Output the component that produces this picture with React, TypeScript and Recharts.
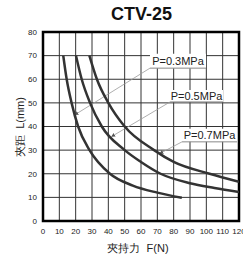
import { LineChart, Line, XAxis, YAxis, CartesianGrid, ReferenceArea, ReferenceLine } from 'recharts'

const xTicks = [0, 10, 20, 30, 40, 50, 60, 70, 80, 90, 100, 110, 120]
const yTicks = [0, 10, 20, 30, 40, 50, 60, 70, 80]

// clamping force F(N) vs distance L(mm)
const p03 = [
  { F: 12.4, L: 70 }, { F: 14.5, L: 60 }, { F: 17.5, L: 50 }, { F: 21.5, L: 40 },
  { F: 28.5, L: 30 }, { F: 41, L: 20 }, { F: 55, L: 15 }, { F: 70, L: 12 }, { F: 85, L: 9.8 },
]
const p05 = [
  { F: 20.2, L: 70 }, { F: 23.7, L: 60 }, { F: 28.8, L: 50 }, { F: 36, L: 40 },
  { F: 50, L: 30 }, { F: 60, L: 25 }, { F: 72, L: 20 }, { F: 90, L: 16 }, { F: 105, L: 14 }, { F: 120, L: 12.3 },
]
const p07 = [
  { F: 28.4, L: 70 }, { F: 33, L: 60 }, { F: 40, L: 50 }, { F: 50, L: 40 },
  { F: 68, L: 30 }, { F: 80, L: 25 }, { F: 102, L: 20 }, { F: 120, L: 16.6 },
]

const series = [
  { name: 'P=0.3MPa', data: p03 },
  { name: 'P=0.5MPa', data: p05 },
  { name: 'P=0.7MPa', data: p07 },
]

// callout boxes: [x1, x2, yBottom, yTop] and leader tip
const callouts = [
  { text: 'P=0.3MPa', x1: 65.5, x2: 99.8, y1: 64.7, y2: 70.8, tip: { x: 19.6, y: 45 } },
  { text: 'P=0.5MPa', x1: 77.8, x2: 110.2, y1: 50.4, y2: 55.5, tip: { x: 42.1, y: 35.8 } },
  { text: 'P=0.7MPa', x1: 85.1, x2: 118.8, y1: 33.5, y2: 39, tip: { x: 71.6, y: 28.6 } },
]

const font = "'Liberation Sans', Arial, sans-serif"

export default function App() {
  return (
    <div style={{ position: 'absolute', left: 0, top: 0, width: 243, height: 255, background: '#fff', fontFamily: font }}>
      <div style={{ position: 'absolute', left: 0, width: 283, top: 4, textAlign: 'center', fontSize: 18, fontWeight: 700, color: '#111' }}>CTV-25</div>
      <LineChart width={243} height={255} margin={{ top: 32, right: 4, bottom: 14, left: 0 }}>
        <defs>
          <marker id="arr" viewBox="0 0 6 6" refX="5" refY="3" markerWidth="5" markerHeight="5" orient="auto">
            <path d="M0,0 L6,3 L0,6 z" fill="#555" />
          </marker>
        </defs>
        <CartesianGrid stroke="#333" strokeWidth={1} />
        <XAxis dataKey="F" type="number" domain={[0, 120]} ticks={xTicks} interval={0} height={20}
          axisLine={false} tickLine={false} tickSize={0} tickMargin={7}
          tick={{ fontSize: 8, fill: '#222', fontFamily: font }} allowDataOverflow />
        <YAxis dataKey="L" type="number" domain={[0, 80]} ticks={yTicks} interval={0} width={43}
          axisLine={false} tickLine={false} tickSize={0} tickMargin={6}
          tick={{ fontSize: 8, fill: '#222', fontFamily: font }} allowDataOverflow />
        {callouts.map((c) => (
          <ReferenceArea key={c.text + 'b'} x1={c.x1} x2={c.x2} y1={c.y1} y2={c.y2} fill="#fff" fillOpacity={1} stroke="none"
            label={{ value: c.text, position: 'center', fontSize: 11, fill: '#222', fontFamily: font }} />
        ))}
        {callouts.map((c) => (
          <ReferenceLine key={c.text + 'u'} segment={[{ x: c.x1, y: c.y1 }, { x: c.x2, y: c.y1 }]} stroke="#888" strokeWidth={1} />
        ))}
        {callouts.map((c) => (
          <ReferenceLine key={c.text + 'l'} segment={[{ x: c.x1, y: c.y1 }, c.tip]} stroke="#999" strokeWidth={0.8} markerEnd="url(#arr)" />
        ))}
        {series.map((s) => (
          <Line key={s.name} data={s.data} dataKey="L" type="monotone" stroke="#333" strokeWidth={2.5}
            dot={false} activeDot={false} isAnimationActive={false} />
        ))}
        <ReferenceArea x1={0} x2={120} y1={0} y2={80} fill="none" stroke="#000" strokeWidth={2.5} />
      </LineChart>
      <div style={{ position: 'absolute', left: 20, top: 127, transform: 'translate(-50%, -50%) rotate(-90deg)', whiteSpace: 'nowrap', fontSize: 11, color: '#222' }}>夾距&nbsp;&nbsp;L(mm)</div>
      <div style={{ position: 'absolute', left: 138, top: 248, transform: 'translate(-50%, -50%)', whiteSpace: 'nowrap', fontSize: 11, color: '#222' }}>夾持力&nbsp;&nbsp;F(N)</div>
    </div>
  )
}
